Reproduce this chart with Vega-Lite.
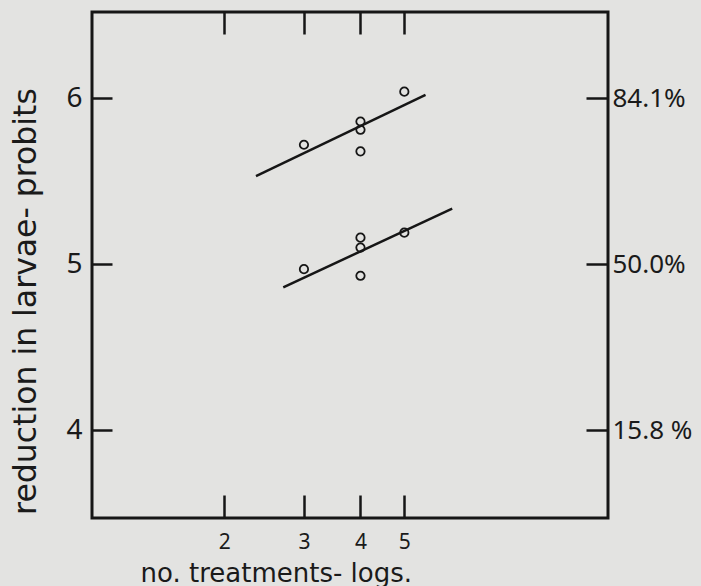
{
  "$schema": "https://vega.github.io/schema/vega-lite/v6.json",
  "width": 516,
  "height": 506,
  "autosize": "none",
  "padding": {"left": 92, "top": 12, "right": 93, "bottom": 68},
  "background": "#e3e3e1",
  "config": {
    "view": {"stroke": "#161616", "strokeWidth": 3},
    "axis": {
      "domain": false,
      "grid": false,
      "tickColor": "#161616",
      "tickWidth": 2.5,
      "labelColor": "#1a1a1a",
      "titleColor": "#1a1a1a",
      "labelFont": "Noto Sans",
      "titleFont": "DejaVu Sans",
      "titleFontWeight": "normal"
    }
  },
  "datasets": {
    "points": [
      {"treatments": 3, "probit": 5.72, "group": "upper"},
      {"treatments": 4, "probit": 5.86, "group": "upper"},
      {"treatments": 4, "probit": 5.81, "group": "upper"},
      {"treatments": 4, "probit": 5.68, "group": "upper"},
      {"treatments": 5, "probit": 6.04, "group": "upper"},
      {"treatments": 3, "probit": 4.97, "group": "lower"},
      {"treatments": 4, "probit": 5.16, "group": "lower"},
      {"treatments": 4, "probit": 5.10, "group": "lower"},
      {"treatments": 4, "probit": 4.93, "group": "lower"},
      {"treatments": 5, "probit": 5.19, "group": "lower"}
    ],
    "lines": [
      {"treatments": 2.35, "probit": 5.53, "group": "upper"},
      {"treatments": 5.57, "probit": 6.02, "group": "upper"},
      {"treatments": 2.70, "probit": 4.86, "group": "lower"},
      {"treatments": 6.38, "probit": 5.335, "group": "lower"}
    ]
  },
  "layer": [
    {
      "data": {"name": "points"},
      "mark": {"type": "point", "shape": "circle", "filled": false, "size": 70, "strokeWidth": 1.8, "color": "#161616", "opacity": 1},
      "encoding": {
        "x": {
          "field": "treatments", "type": "quantitative",
          "scale": {"type": "log", "domain": [1.02, 14.1], "nice": false, "zero": false},
          "axis": {
            "orient": "bottom", "values": [2, 3, 4, 5], "tickSize": -23,
            "labelPadding": 36, "labelFontSize": 21, "labelBaseline": "top",
            "title": "no. treatments- logs.", "titleFontSize": 26,
            "titleX": 48, "titleY": 63, "titleAlign": "left", "titleAnchor": "start", "titleBaseline": "alphabetic"
          }
        },
        "y": {
          "field": "probit", "type": "quantitative",
          "scale": {"domain": [3.47, 6.52], "nice": false, "zero": false},
          "axis": {
            "orient": "left", "values": [4, 5, 6], "tickSize": -20,
            "labelPadding": 30, "labelFontSize": 28,
            "title": "reduction in larvae- probits", "titleFontSize": 31.5,
            "titleX": -57, "titleY": 289, "titleAnchor": "middle", "titleAlign": "center", "titleBaseline": "alphabetic"
          }
        }
      }
    },
    {
      "data": {"name": "lines"},
      "mark": {"type": "line", "color": "#161616", "strokeWidth": 2.5},
      "encoding": {
        "x": {
          "field": "treatments", "type": "quantitative",
          "axis": {"orient": "top", "values": [2, 3, 4, 5], "tickSize": -22, "labels": false, "title": null}
        },
        "y": {
          "field": "probit", "type": "quantitative",
          "axis": {
            "orient": "right", "values": [4, 5, 6], "tickSize": -22,
            "labelPadding": 26, "labelFontSize": 26, "title": null,
            "labelExpr": "datum.value == 6 ? '84.1%' : datum.value == 5 ? '50.0%' : '15.8 %'"
          }
        },
        "detail": {"field": "group"}
      }
    }
  ],
  "resolve": {"axis": {"x": "independent", "y": "independent"}}
}
